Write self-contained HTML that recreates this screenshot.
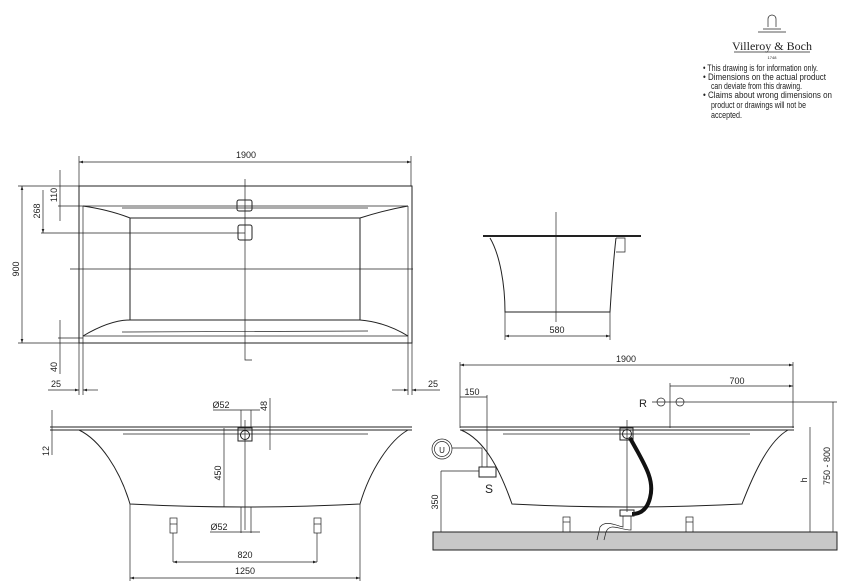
<!DOCTYPE html>
<html><head><meta charset="utf-8"><style>
html,body{margin:0;padding:0;background:#fff;width:847px;height:586px;overflow:hidden}
svg{display:block}
text{font-family:"Liberation Sans",sans-serif;font-size:9px;fill:#222}
.l{stroke:#222;stroke-width:1;fill:none}
.t{stroke:#222;stroke-width:0.7;fill:none}
</style></head><body>
<svg width="847" height="586" viewBox="0 0 847 586" xmlns="http://www.w3.org/2000/svg">
<defs><marker id="a" markerWidth="6" markerHeight="4" refX="6" refY="2" orient="auto-start-reverse"><path d="M0,0 L6,2 L0,4z" fill="#222"/></marker></defs>

<!-- logo -->
<path d="M768,27 v-8 a4,4 0 0 1 8,0 v8 M763,29 h18 M758,32 h28" class="t"/>
<text x="772" y="50" text-anchor="middle" style="font-family:'Liberation Serif',serif;font-size:12px">Villeroy &amp; Boch</text>
<line x1="734" y1="52" x2="810" y2="52" class="t"/>
<text x="772" y="59" text-anchor="middle" style="font-size:4px">1748</text>
<g style="font-size:7px">
<text x="703" y="71" textLength="115" lengthAdjust="spacingAndGlyphs">• This drawing is for information only.</text>
<text x="703" y="80" textLength="123" lengthAdjust="spacingAndGlyphs">• Dimensions on the actual product</text>
<text x="711" y="89" textLength="91" lengthAdjust="spacingAndGlyphs">can deviate from this drawing.</text>
<text x="703" y="98" textLength="129" lengthAdjust="spacingAndGlyphs">• Claims about wrong dimensions on</text>
<text x="711" y="108" textLength="95" lengthAdjust="spacingAndGlyphs">product or drawings will not be</text>
<text x="711" y="118" textLength="31" lengthAdjust="spacingAndGlyphs">accepted.</text>
</g>

<!-- TOP VIEW -->
<rect x="79" y="186" width="333" height="157" class="l"/>
<line x1="83" y1="206" x2="83" y2="395" class="t"/>
<line x1="408" y1="206" x2="408" y2="395" class="t"/>
<line x1="79" y1="343" x2="79" y2="395" class="t"/>
<line x1="412" y1="343" x2="412" y2="395" class="t"/>
<line x1="83" y1="336" x2="408" y2="336" class="t"/>
<line x1="83" y1="206" x2="408" y2="206" class="t"/>
<path d="M83,206 Q110,210 130,218 L360,218 Q385,210 408,206" class="l"/>
<path d="M83,336 Q110,320 130,320 L360,320 Q385,322 408,336" class="l"/>
<rect x="130" y="218" width="230" height="102" class="l"/>
<line x1="122" y1="208" x2="368" y2="208" class="t"/>
<line x1="122" y1="332" x2="368" y2="331" class="t"/>
<line x1="70" y1="269" x2="413" y2="269" class="t"/>
<path d="M245,179 V360 H252" class="t"/>
<rect x="237" y="200" width="15" height="11" rx="2" class="l"/>
<rect x="238" y="225" width="14" height="15" rx="2" class="l"/>
<line x1="79" y1="162" x2="411" y2="162" class="t" marker-start="url(#a)" marker-end="url(#a)"/>
<line x1="79" y1="156" x2="79" y2="186" class="t"/><line x1="411" y1="156" x2="411" y2="186" class="t"/>
<text x="246" y="158" text-anchor="middle">1900</text>
<line x1="18" y1="186" x2="79" y2="186" class="t"/><line x1="18" y1="343" x2="79" y2="343" class="t"/>
<line x1="22" y1="186" x2="22" y2="343" class="t" marker-start="url(#a)" marker-end="url(#a)"/>
<text transform="translate(19,269) rotate(-90)" text-anchor="middle">900</text>
<line x1="43" y1="190" x2="43" y2="233" class="t" marker-end="url(#a)"/>
<line x1="41" y1="233" x2="245" y2="233" class="t"/>
<text transform="translate(40,211) rotate(-90)" text-anchor="middle">268</text>
<line x1="60" y1="170" x2="60" y2="221" class="t"/>
<line x1="58" y1="206" x2="83" y2="206" class="t"/>
<text transform="translate(57,195) rotate(-90)" text-anchor="middle">110</text>
<line x1="60" y1="320" x2="60" y2="374" class="t"/>
<line x1="58" y1="338" x2="83" y2="338" class="t"/>
<text transform="translate(57,367) rotate(-90)" text-anchor="middle">40</text>
<line x1="48" y1="390" x2="79" y2="390" class="t" marker-end="url(#a)"/><line x1="83" y1="390" x2="98" y2="390" class="t" marker-start="url(#a)"/>
<text x="56" y="387" text-anchor="middle">25</text>
<line x1="392" y1="390" x2="408" y2="390" class="t" marker-end="url(#a)"/><line x1="412" y1="390" x2="440" y2="390" class="t" marker-start="url(#a)"/>
<text x="433" y="387" text-anchor="middle">25</text>

<!-- SIDE VIEW -->
<line x1="483" y1="236" x2="641" y2="236" stroke="#222" stroke-width="2"/>
<path d="M490,238 C500,255 505,285 505,312 L610,312 C612,280 614,255 616,238" class="l"/>
<path d="M616,238 h9 v14 h-9" class="t"/>
<line x1="556" y1="212" x2="556" y2="322" class="t"/>
<line x1="505" y1="312" x2="505" y2="340" class="t"/><line x1="610" y1="312" x2="610" y2="340" class="t"/>
<line x1="505" y1="336" x2="610" y2="336" class="t" marker-start="url(#a)" marker-end="url(#a)"/>
<text x="557" y="333" text-anchor="middle">580</text>

<!-- FRONT VIEW LEFT -->
<line x1="50" y1="427" x2="412" y2="427" class="l"/>
<line x1="50" y1="430" x2="412" y2="430" class="l"/>
<path d="M79,430 C100,440 120,470 130,504 Q245,510 360,504 C370,470 390,440 408,430" class="l"/>
<line x1="123" y1="434" x2="368" y2="434" class="t"/>
<rect x="238" y="428" width="14" height="13" class="l"/>
<circle cx="245" cy="435" r="4.5" class="l"/>
<line x1="245" y1="420" x2="245" y2="530" class="t"/>
<path d="M241,410 V428 M251,410 V428 M241,507 V533 M251,507 V533" class="t"/>
<line x1="213" y1="410" x2="260" y2="410" class="t"/>
<text x="221" y="408" text-anchor="middle">Ø52</text>
<line x1="210" y1="532" x2="260" y2="532" class="t"/>
<text x="219" y="530" text-anchor="middle">Ø52</text>
<line x1="270" y1="398" x2="270" y2="450" class="t"/>
<text transform="translate(267,406) rotate(-90)" text-anchor="middle">48</text>
<line x1="52" y1="410" x2="52" y2="455" class="t"/>
<text transform="translate(49,451) rotate(-90)" text-anchor="middle">12</text>
<line x1="224" y1="428" x2="224" y2="507" class="t"/>
<text transform="translate(221,473) rotate(-90)" text-anchor="middle">450</text>
<g class="t"><rect x="170" y="518" width="7" height="15"/><line x1="170" y1="524" x2="177" y2="524"/><line x1="173" y1="533" x2="173" y2="562"/>
<rect x="314" y="518" width="7" height="15"/><line x1="314" y1="524" x2="321" y2="524"/><line x1="317" y1="533" x2="317" y2="562"/></g>
<line x1="173" y1="562" x2="317" y2="562" class="t" marker-start="url(#a)" marker-end="url(#a)"/>
<text x="245" y="558" text-anchor="middle">820</text>
<line x1="130" y1="504" x2="130" y2="581" class="t"/><line x1="360" y1="504" x2="360" y2="581" class="t"/>
<line x1="130" y1="578" x2="360" y2="578" class="t" marker-start="url(#a)" marker-end="url(#a)"/>
<text x="245" y="574" text-anchor="middle">1250</text>

<!-- FRONT VIEW RIGHT -->
<rect x="433" y="532" width="404" height="18" fill="#c8c8c8" stroke="#222" stroke-width="1"/>
<line x1="460" y1="427" x2="794" y2="427" class="l"/>
<line x1="460" y1="430" x2="794" y2="430" class="l"/>
<path d="M461,430 C485,440 500,470 512,504 Q627,510 742,504 C755,470 770,440 788,430" class="l"/>
<line x1="503" y1="434" x2="750" y2="434" class="t"/>
<line x1="460" y1="362" x2="460" y2="428" class="t"/><line x1="793" y1="362" x2="793" y2="428" class="t"/>
<line x1="460" y1="365" x2="793" y2="365" class="t" marker-start="url(#a)" marker-end="url(#a)"/>
<text x="626" y="362" text-anchor="middle">1900</text>
<line x1="670" y1="383" x2="670" y2="428" class="t"/>
<line x1="670" y1="386" x2="793" y2="386" class="t" marker-end="url(#a)"/>
<text x="737" y="384" text-anchor="middle">700</text>
<text x="643" y="407" text-anchor="middle" style="font-size:11px">R</text>
<circle cx="661" cy="402" r="4" class="t"/><circle cx="680" cy="402" r="4" class="t"/>
<line x1="652" y1="402" x2="837" y2="402" class="t"/>
<line x1="460" y1="397" x2="487" y2="397" class="t"/><line x1="487" y1="395" x2="487" y2="467" class="t"/>
<text x="472" y="395" text-anchor="middle">150</text>
<circle cx="442" cy="449" r="10" class="t"/><circle cx="442" cy="449" r="7.5" class="t"/>
<text x="442" y="453" text-anchor="middle" style="font-size:8px">U</text>
<path d="M452,448 H482 V467" class="t"/>
<rect x="479" y="467" width="17" height="10" class="l"/>
<text x="489" y="493" text-anchor="middle" style="font-size:12px">S</text>
<line x1="441" y1="471" x2="479" y2="471" class="t"/>
<line x1="441" y1="471" x2="441" y2="532" class="t"/>
<text transform="translate(438,502) rotate(-90)" text-anchor="middle">350</text>
<line x1="810" y1="427" x2="810" y2="532" class="t"/>
<text transform="translate(807,480) rotate(-90)" text-anchor="middle">h</text>
<line x1="833" y1="402" x2="833" y2="532" class="t"/>
<text transform="translate(830,466) rotate(-90)" text-anchor="middle">750 - 800</text>
<rect x="620" y="428" width="13" height="12" class="l"/>
<circle cx="627" cy="434" r="4.5" class="l"/>
<line x1="627" y1="420" x2="627" y2="512" class="t"/>
<path d="M630,438 C645,465 655,480 650,498 C647,510 640,514 632,514" stroke="#111" stroke-width="4" fill="none"/>
<rect x="620" y="510" width="14" height="6" class="l"/>
<path d="M623,516 V527 C615,525 605,520 600,527 L597,540 M631,516 V530 C620,530 610,522 606,532 L604,540" class="t"/>
<g class="t"><rect x="563" y="517" width="7" height="15"/><line x1="563" y1="522" x2="570" y2="522"/>
<rect x="686" y="517" width="7" height="15"/><line x1="686" y1="522" x2="693" y2="522"/></g>
</svg>
</body></html>
